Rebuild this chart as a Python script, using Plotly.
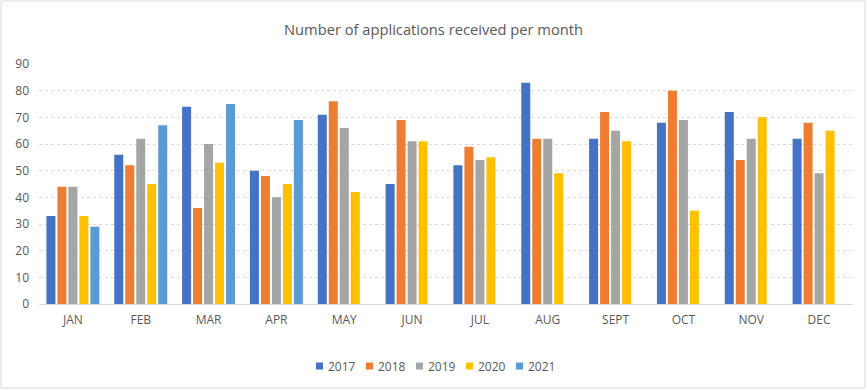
import plotly.graph_objects as go

months = ["JAN", "FEB", "MAR", "APR", "MAY", "JUN", "JUL", "AUG", "SEPT", "OCT", "NOV", "DEC"]
years = ["2017", "2018", "2019", "2020", "2021"]
y2017 = [33, 56, 74, 50, 71, 45, 52, 83, 62, 68, 72, 62]
y2018 = [44, 52, 36, 48, 76, 69, 59, 62, 72, 80, 54, 68]
y2019 = [44, 62, 60, 40, 66, 61, 54, 62, 65, 69, 62, 49]
y2020 = [33, 45, 53, 45, 42, 61, 55, 49, 61, 35, 70, 65]
y2021 = [29, 67, 75, 69, None, None, None, None, None, None, None, None]

values = [y2017, y2018, y2019, y2020, y2021]
colors = ["#4472C4", "#ED7D31", "#A5A5A5", "#FFC000", "#5B9BD5"]

W, H = 867, 390
L, R, T, B = 39, 14, 64, 86
pw = W - L - R
ph = H - T - B


def px_x(x):
    return (x - L) / pw


def px_y(y):
    return (H - B - y) / ph


fig = go.Figure()
for name, vals, col in zip(years, values, colors):
    fig.add_trace(go.Bar(x=months, y=vals, name=name, showlegend=False,
                         marker=dict(color=col, line=dict(width=0))))

font = "Open Sans, Liberation Sans, sans-serif"
txt = "#595959"

shapes = [dict(type="rect", xref="paper", yref="paper",
               x0=px_x(1), x1=px_x(865), y0=px_y(388), y1=px_y(1),
               line=dict(color="#D9D9D9", width=1), fillcolor="rgba(0,0,0,0)", layer="below")]
annotations = []
leg_y = 366
for i, (name, col) in enumerate(zip(years, colors)):
    sx = 316 + 50 * i
    shapes.append(dict(type="rect", xref="paper", yref="paper",
                       x0=px_x(sx), x1=px_x(sx + 7), y0=px_y(leg_y + 3.5), y1=px_y(leg_y - 3.5),
                       line=dict(width=0), fillcolor=col))
    annotations.append(dict(text=name, xref="paper", yref="paper", x=px_x(sx + 10), y=px_y(leg_y),
                            xanchor="left", yanchor="middle", showarrow=False,
                            font=dict(family=font, size=12, color=txt)))

fig.update_layout(
    width=W, height=H,
    margin=dict(l=L, r=R, t=T, b=B, autoexpand=False),
    paper_bgcolor="white", plot_bgcolor="white",
    barmode="group", bargap=0.19, bargroupgap=0.18,
    title=dict(text="Number of applications received per month", x=0.5, xanchor="center",
               y=1 - 30 / H, yanchor="middle",
               font=dict(family=font, size=14.7, color=txt)),
    font=dict(family=font, size=12, color=txt),
    xaxis=dict(showgrid=False, showline=True, linecolor="#D9D9D9", linewidth=1, automargin=False,
               ticks="", ticklabelstandoff=5, tickfont=dict(size=12, color=txt)),
    yaxis=dict(range=[0, 90], dtick=10, showgrid=True, gridcolor="#D9D9D9", griddash="dot",
               gridwidth=1, zeroline=False, showline=False, ticks="", automargin=False,
               ticklabelstandoff=9, tickfont=dict(size=12, color=txt)),
    shapes=shapes,
    annotations=annotations,
)

fig.write_html("out.html", config={"displayModeBar": False},
               post_script="document.body.style.margin='0';document.body.style.overflow='hidden';")
